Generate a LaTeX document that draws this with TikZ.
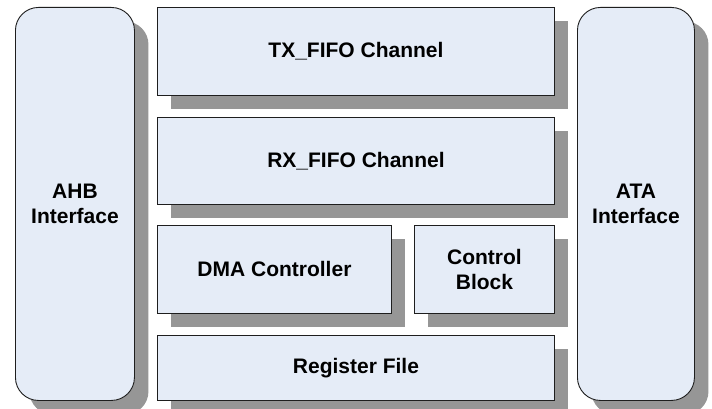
\documentclass[tikz,border=0pt]{standalone}
\usepackage{fontspec}
\setmainfont{Liberation Sans}
\usetikzlibrary{shadows}

\definecolor{blockfill}{HTML}{E5ECF7}
\definecolor{blockline}{HTML}{1E1E1E}
\definecolor{shadowgray}{HTML}{969696}

\tikzset{
  block/.style={
    draw=blockline, line width=0.9pt, fill=blockfill,
    rectangle, anchor=north west, inner sep=0pt,
    align=center, font=\fontsize{21}{25}\selectfont\bfseries,
    drop shadow={shadow xshift=14pt, shadow yshift=-14pt,
                 opacity=1, fill=shadowgray}
  },
  roundblock/.style={block, rounded corners=23pt}
}

\begin{document}
\begin{tikzpicture}[x=1pt, y=-1pt]
  \useasboundingbox[fill=white] (0,0) rectangle (712,409);

  % side interfaces
  \node[roundblock, minimum width=119pt, minimum height=393pt] (ahb) at (15,7) {AHB\\Interface};
  \node[roundblock, minimum width=117pt, minimum height=393pt] (ata) at (577,7) {ATA\\Interface};

  % central stack
  \node[block, minimum width=397pt, minimum height=88pt] (tx)  at (157,7)   {TX\_FIFO Channel};
  \node[block, minimum width=397pt, minimum height=87pt] (rx)  at (157,117) {RX\_FIFO Channel};
  \node[block, minimum width=234pt, minimum height=88pt] (dma) at (157,225) {DMA Controller};
  \node[block, minimum width=140pt, minimum height=88pt] (ctl) at (414,225) {Control\\Block};
  \node[block, minimum width=397pt, minimum height=65pt] (reg) at (157,335) {Register File};
\end{tikzpicture}
\end{document}
